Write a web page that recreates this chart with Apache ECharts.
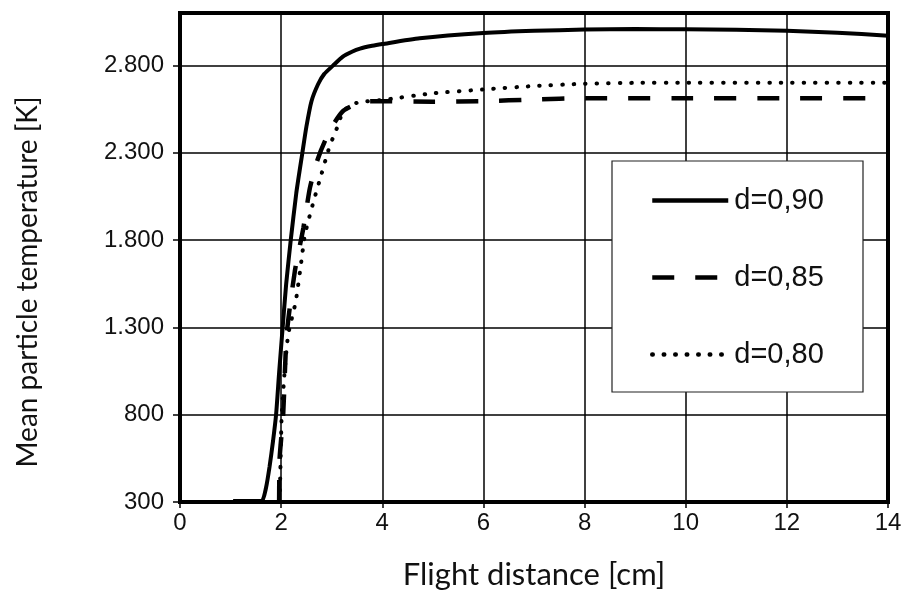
<!DOCTYPE html>
<html>
<head>
<meta charset="utf-8">
<script src="https://cdn.jsdelivr.net/npm/echarts@6/dist/echarts.min.js"></script>
<style>
  html, body { margin: 0; padding: 0; background: #fff; }
  #chart { width: 905px; height: 605px; }
</style>
</head>
<body>
<div id="chart"></div>
<script>
// d=0,90 (solid)
const x090 = [1.05, 1.45, 1.62, 1.70, 1.77, 1.84, 1.90, 1.96, 2.03, 2.10, 2.19, 2.30, 2.42, 2.50, 2.60, 2.73, 2.85, 3.03, 3.22, 3.40, 3.56, 3.80, 4.00, 4.74, 6, 7, 8, 9, 10, 11, 12, 13, 14];
const t090 = [306, 306, 306, 380, 500, 650, 800, 1040, 1300, 1550, 1800, 2070, 2300, 2450, 2595, 2692, 2750, 2800, 2850, 2878, 2896, 2912, 2922, 2955, 2985, 2998, 3005, 3008, 3007, 3004, 2998, 2987, 2970];
// d=0,85 (dashed)
const x085 = [1.96, 1.97, 2.04, 2.11, 2.27, 2.44, 2.57, 2.72, 2.87, 3.05, 3.23, 3.50, 3.75, 4, 5, 6, 7, 8, 10, 12, 14];
const t085 = [300, 550, 800, 1260, 1620, 1870, 2100, 2260, 2370, 2470, 2540, 2580, 2595, 2595, 2592, 2595, 2605, 2612, 2612, 2612, 2612];
// d=0,80 (dotted)
const x080 = [1.97, 1.99, 2.01, 2.07, 2.14, 2.29, 2.40, 2.47, 2.64, 2.80, 2.93, 3.03, 3.13, 3.23, 3.49, 4.08, 5, 6, 7, 8, 9, 10, 12, 14];
const t080 = [300, 550, 790, 1050, 1260, 1450, 1680, 1830, 2020, 2180, 2310, 2390, 2460, 2540, 2585, 2605, 2640, 2662, 2682, 2695, 2700, 2700, 2700, 2700];

const seriesNames = ['d=0,90', 'd=0,85', 'd=0,80'];

const zip = (xs, ys) => xs.map((x, i) => [x, ys[i]]);

const chart = echarts.init(document.getElementById('chart'), null, { renderer: 'canvas' });

const tickFont = "'Liberation Sans', Arial, sans-serif";

const lineBase = {
  type: 'line',
  showSymbol: false,
  symbol: 'none',
  smooth: 0.2,
  itemStyle: { color: '#000' },
  animation: false
};

chart.setOption({
  animation: false,
  grid: {
    left: 180, right: 17, top: 13, bottom: 103,
    show: true,
    borderColor: '#000',
    borderWidth: 4
  },
  graphic: [
    // legend box
    {
      type: 'rect',
      z: 3,
      shape: { x: 612, y: 161, width: 251, height: 231 },
      style: { fill: '#fff', stroke: '#222', lineWidth: 1.2 }
    },
    {
      type: 'text',
      z: 5,
      x: 28, y: 282,
      rotation: Math.PI / 2,
      style: {
        text: 'Mean particle temperature [K]',
        font: '28px Lato',
        fill: '#111',
        align: 'center',
        verticalAlign: 'middle'
      }
    }
  ],
  legend: {
    data: seriesNames,
    orient: 'vertical',
    left: 650,
    top: 186,
    itemWidth: 76,
    itemHeight: 20,
    itemGap: 48,
    padding: 0,
    itemStyle: { opacity: 0 },
    lineStyle: { width: 4.5 },
    textStyle: { fontFamily: 'Liberation Sans', fontSize: 29, color: '#111', padding: [0, 0, 0, 1] }
  },
  xAxis: {
    type: 'value',
    min: 0, max: 14, interval: 2,
    name: 'Flight distance [cm]',
    nameLocation: 'middle',
    nameGap: 57,
    nameTextStyle: { fontFamily: 'Lato', fontSize: 31, color: '#111' },
    axisLine: { lineStyle: { color: '#000', width: 4 } },
    axisTick: { show: true, length: 6, lineStyle: { color: '#000', width: 1.5 } },
    axisLabel: { fontFamily: tickFont, fontSize: 24, color: '#111', margin: 9 },
    splitLine: { show: true, lineStyle: { color: '#000', width: 1.5 } }
  },
  yAxis: {
    type: 'value',
    min: 300, max: 3100, interval: 500,
    axisLine: { show: true, lineStyle: { color: '#000', width: 4 } },
    axisTick: { show: true, length: 7, lineStyle: { color: '#000', width: 1.5 } },
    axisLabel: {
      fontFamily: tickFont, fontSize: 24, color: '#111', margin: 16,
      showMaxLabel: false,
      formatter: v => v >= 3100 ? '' : v.toLocaleString('de-DE')
    },
    splitLine: { show: true, lineStyle: { color: '#000', width: 1.5 } }
  },
  series: [
    Object.assign({}, lineBase, {
      name: seriesNames[0],
      data: zip(x090, t090),
      lineStyle: { color: '#000', width: 4, type: 'solid' }
    }),
    Object.assign({}, lineBase, {
      name: seriesNames[1],
      data: zip(x085, t085),
      lineStyle: { color: '#000', width: 4.5, type: [22, 21], cap: 'butt' }
    }),
    Object.assign({}, lineBase, {
      name: seriesNames[2],
      data: zip(x080, t080),
      lineStyle: { color: '#000', width: 4, type: [0.5, 11], cap: 'round' }
    })
  ]
});
</script>
</body>
</html>
